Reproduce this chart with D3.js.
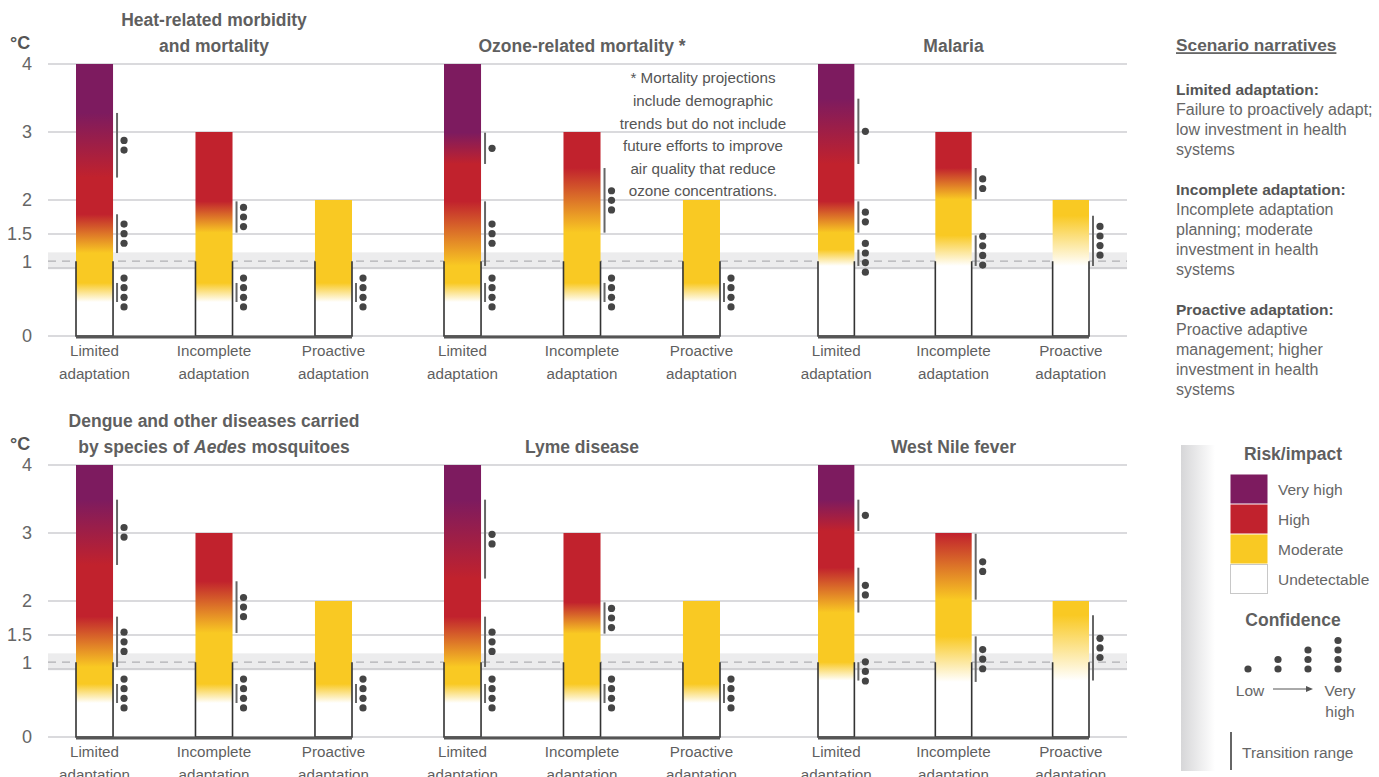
<!DOCTYPE html>
<html>
<head>
<meta charset="utf-8">
<script src="https://cdn.jsdelivr.net/npm/d3@7"></script>
<style>
  body { margin: 0; background: #fff; }
  svg text { font-family: "Liberation Sans", Arial, sans-serif; }
</style>
</head>
<body>
<svg id="chart" width="1379" height="777"></svg>
<script>
// ---- data ----
const scenarios = ["Limited adaptation", "Incomplete adaptation", "Proactive adaptation"]
const panelTitles = [
  ["Heat-related morbidity", "and mortality"],
  ["Ozone-related mortality *"],
  ["Malaria"],
  ["Dengue and other diseases carried", "by species of |Aedes| mosquitoes"],
  ["Lyme disease"],
  ["West Nile fever"]
]
const riskLevels = ["Undetectable", "Moderate", "High", "Very high"]
const riskColors = ["#ffffff", "#f9c923", "#c1222d", "#7d1b5f"]
const yTicks = [0, 1, 1.5, 2, 3, 4]
const presentWarming = 1.1
const presentBand = [0.98, 1.23]

// top of each ember (°C), per panel, per scenario
const emberTops = [[4, 3, 2], [4, 3, 2], [4, 3, 2], [4, 3, 2], [4, 3, 2], [4, 3, 2]]

// transitions: [scenario index, from risk level, start °C, end °C, confidence dots]
const heatTransitions = [
  [0, 0, 0.5, 0.78, 4], [0, 1, 1.22, 1.79, 3], [0, 2, 2.33, 3.28, 2],
  [1, 0, 0.5, 0.78, 4], [1, 1, 1.52, 1.98, 3],
  [2, 0, 0.5, 0.78, 4]
]
const ozoneTransitions = [
  [0, 0, 0.5, 0.78, 4], [0, 1, 1.03, 1.98, 3], [0, 2, 2.53, 2.99, 1],
  [1, 0, 0.5, 0.78, 4], [1, 1, 1.52, 2.47, 3],
  [2, 0, 0.5, 0.78, 4]
]
const malariaTransitions = [
  [0, 0, 1.03, 1.27, 4], [0, 1, 1.52, 1.98, 2], [0, 2, 2.53, 3.49, 1],
  [1, 0, 1.03, 1.48, 4], [1, 1, 2.01, 2.47, 2],
  [2, 0, 1.03, 1.77, 4]
]
const dengueTransitions = [
  [0, 0, 0.5, 0.78, 4], [0, 1, 1.03, 1.77, 3], [0, 2, 2.53, 3.49, 2],
  [1, 0, 0.5, 0.78, 4], [1, 1, 1.53, 2.29, 3],
  [2, 0, 0.5, 0.78, 4]
]
const lymeTransitions = [
  [0, 0, 0.5, 0.78, 4], [0, 1, 1.03, 1.77, 3], [0, 2, 2.33, 3.49, 2],
  [1, 0, 0.5, 0.78, 4], [1, 1, 1.52, 1.98, 3],
  [2, 0, 0.5, 0.78, 4]
]
const westNileTransitions = [
  [0, 0, 0.83, 1.1, 3], [0, 1, 1.83, 2.49, 2], [0, 2, 3.03, 3.49, 1],
  [1, 0, 0.81, 1.48, 3], [1, 1, 2.02, 2.99, 2],
  [2, 0, 0.83, 1.79, 3]
]
const allTransitions = [heatTransitions, ozoneTransitions, malariaTransitions,
  dengueTransitions, lymeTransitions, westNileTransitions]

const ozoneNote = ["* Mortality projections", "include demographic", "trends but do not include",
  "future efforts to improve", "air quality that reduce", "ozone concentrations."]

const narratives = [
  ["Limited adaptation:", "Failure to proactively adapt;", "low investment in health", "systems"],
  ["Incomplete adaptation:", "Incomplete adaptation", "planning; moderate", "investment in health", "systems"],
  ["Proactive adaptation:", "Proactive adaptive", "management; higher", "investment in health", "systems"]
]
const confidenceLevels = [1, 2, 3, 4]

// ---- layout ----
const svg = d3.select("#chart")
const gridX = [48, 1127]
const rowZero = [336, 737]
const panelRanges = [[76, 352], [444, 720], [818, 1089]]
const textGray = "#5f5f5f"

const defs = svg.append("defs")

rowZero.forEach(function(zero, row) {
  const y = d3.scaleLinear().domain([0, 4]).range([zero, zero - 272])
  const g = svg.append("g")

  // present-day band
  g.append("rect").attr("x", gridX[0]).attr("width", gridX[1] - gridX[0])
    .attr("y", y(presentBand[1])).attr("height", y(presentBand[0]) - y(presentBand[1]))
    .attr("fill", "#ececed")

  // grid
  g.selectAll(".grid").data(yTicks).enter().append("line")
    .attr("x1", gridX[0]).attr("x2", gridX[1])
    .attr("y1", d => y(d)).attr("y2", d => y(d))
    .attr("stroke", "#b5b5bb").attr("stroke-width", 1.2)
  g.append("line").attr("x1", gridX[0]).attr("x2", gridX[1])
    .attr("y1", y(presentWarming)).attr("y2", y(presentWarming))
    .attr("stroke", "#b0b0b4").attr("stroke-width", 1.3).attr("stroke-dasharray", "8,6")

  // tick labels
  g.selectAll(".tick").data(yTicks).enter().append("text")
    .attr("x", 32).attr("y", d => y(d === 1 ? presentWarming : d))
    .attr("dy", "0.36em").attr("text-anchor", "end")
    .attr("font-size", 18).attr("fill", "#666")
    .text(d => d)
  g.append("text").attr("x", 10).attr("y", y(4) - 21).attr("dy", "0.36em")
    .attr("font-size", 18).attr("font-weight", "bold").attr("fill", "#555").text("°C")

  for (let p = 0; p < 3; p++) {
    const pi = row * 3 + p
    const x = d3.scaleBand().domain(scenarios).range(panelRanges[p]).paddingInner(0.69).paddingOuter(0)
    const bw = x.bandwidth()
    const pg = g.append("g")

    // title
    const title = panelTitles[pi]
    const cx = (panelRanges[p][0] + panelRanges[p][1]) / 2
    title.forEach(function(line, li) {
      const ty = y(4) - 18 - (title.length - 1 - li) * 26
      const t = pg.append("text").attr("x", cx).attr("y", ty).attr("dy", "0.36em")
        .attr("text-anchor", "middle").attr("font-size", 17.5).attr("font-weight", "bold")
        .attr("fill", textGray)
      line.split("|").forEach(function(part, k) {
        t.append("tspan").attr("font-style", k % 2 ? "italic" : "normal").text(part)
      })
    })

    // embers
    scenarios.forEach(function(s, si) {
      const top = emberTops[pi][si]
      const tr = allTransitions[pi].filter(d => d[0] === si)
      const gid = "ember" + pi + "_" + si
      const grad = defs.append("linearGradient").attr("id", gid)
        .attr("gradientUnits", "userSpaceOnUse")
        .attr("x1", 0).attr("x2", 0).attr("y1", y(0)).attr("y2", y(top))
      grad.append("stop").attr("offset", 0).attr("stop-color", riskColors[0])
      tr.forEach(function(d) {
        grad.append("stop").attr("offset", d[2] / top).attr("stop-color", riskColors[d[1]])
        grad.append("stop").attr("offset", Math.min(d[3] / top, 1)).attr("stop-color", riskColors[d[1] + 1])
      })
      const bx = x(s)
      pg.append("rect").attr("x", bx).attr("width", bw)
        .attr("y", y(top)).attr("height", y(0) - y(top))
        .attr("fill", "url(#" + gid + ")")
      pg.append("path")
        .attr("d", d3.line()([[bx, y(presentWarming)], [bx, y(0)], [bx + bw, y(0)], [bx + bw, y(presentWarming)]]))
        .attr("fill", "none").attr("stroke", "#333").attr("stroke-width", 1.6)

      // transition ranges and confidence
      tr.forEach(function(d) {
        pg.append("line").attr("x1", bx + bw + 4).attr("x2", bx + bw + 4)
          .attr("y1", y(d[2])).attr("y2", y(d[3]))
          .attr("stroke", "#666").attr("stroke-width", 2)
        const mid = (y(d[2]) + y(d[3])) / 2
        pg.selectAll(null).data(d3.range(d[4])).enter().append("circle")
          .attr("cx", bx + bw + 11)
          .attr("cy", k => mid + (k - (d[4] - 1) / 2) * 9.6)
          .attr("r", 3.6).attr("fill", "#454545")
      })

      // category label
      const words = s.split(" ")
      const lab = pg.append("text").attr("x", bx + bw / 2).attr("y", y(0) + 15)
        .attr("text-anchor", "middle").attr("font-size", 15.2).attr("fill", textGray)
      words.forEach(function(w, k) {
        lab.append("tspan").attr("x", bx + bw / 2).attr("dy", k === 0 ? "0.36em" : "1.5em").text(w)
      })
    })

    // baseline
    pg.append("line").attr("x1", x(scenarios[0])).attr("x2", x(scenarios[2]) + bw)
      .attr("y1", y(0) + 1).attr("y2", y(0) + 1)
      .attr("stroke", "#555").attr("stroke-width", 3)

    if (pi === 1) {
      pg.selectAll(".note").data(ozoneNote).enter().append("text")
        .attr("x", 703).attr("y", (d, i) => 78 + i * 22.6).attr("dy", "0.36em")
        .attr("text-anchor", "middle").attr("font-size", 15.2).attr("fill", "#555")
        .text(d => d)
    }
  }
})

// ---- scenario narratives ----
const leg = svg.append("g").attr("transform", "translate(1176,0)")
leg.append("text").attr("x", 0).attr("y", 45).attr("dy", "0.36em")
  .attr("font-size", 17.3).attr("font-weight", "bold").attr("fill", textGray)
  .attr("text-decoration", "underline").text("Scenario narratives")
let ly = 89
narratives.forEach(function(block) {
  block.forEach(function(line, i) {
    leg.append("text").attr("x", 0).attr("y", ly).attr("dy", "0.36em")
      .attr("font-size", i === 0 ? 15.5 : 16).attr("font-weight", i === 0 ? "bold" : "normal")
      .attr("fill", i === 0 ? "#555" : "#666").text(line)
    ly += 20
  })
  ly += 20
})

// ---- risk legend ----
const shade = defs.append("linearGradient").attr("id", "shade")
shade.append("stop").attr("offset", 0).attr("stop-color", "#d6d6d8")
shade.append("stop").attr("offset", 1).attr("stop-color", "#ffffff")
svg.append("rect").attr("x", 1181).attr("y", 445).attr("width", 34).attr("height", 326)
  .attr("fill", "url(#shade)")

const rl = svg.append("g")
rl.append("text").attr("x", 1293).attr("y", 454).attr("dy", "0.36em").attr("text-anchor", "middle")
  .attr("font-size", 17.5).attr("font-weight", "bold").attr("fill", textGray).text("Risk/impact")
const legendLevels = riskLevels.slice().reverse()
const ly2 = d3.scaleBand().domain(legendLevels).range([474, 594])
rl.selectAll(".sw").data(legendLevels).enter().append("rect")
  .attr("x", 1230.5).attr("y", d => ly2(d) + 0.5).attr("width", 37).attr("height", ly2.bandwidth() - 1)
  .attr("fill", d => riskColors[riskLevels.indexOf(d)])
  .attr("stroke", d => d === "Undetectable" ? "#c8c8c8" : "none")
rl.selectAll(".swl").data(legendLevels).enter().append("text")
  .attr("x", 1278).attr("y", d => ly2(d) + ly2.bandwidth() / 2).attr("dy", "0.36em")
  .attr("font-size", 15.5).attr("fill", "#666").text(d => d)

rl.append("text").attr("x", 1293).attr("y", 620).attr("dy", "0.36em").attr("text-anchor", "middle")
  .attr("font-size", 17.5).attr("font-weight", "bold").attr("fill", textGray).text("Confidence")
const cxs = d3.scalePoint().domain(confidenceLevels).range([1248, 1338])
confidenceLevels.forEach(function(n) {
  rl.selectAll(null).data(d3.range(n)).enter().append("circle")
    .attr("cx", cxs(n)).attr("cy", k => 669 - k * 9.5).attr("r", 3.6).attr("fill", "#454545")
})
rl.append("text").attr("x", 1250).attr("y", 690).attr("dy", "0.36em").attr("text-anchor", "middle")
  .attr("font-size", 15.5).attr("fill", "#666").text("Low")
rl.append("line").attr("x1", 1273).attr("x2", 1309).attr("y1", 689).attr("y2", 689)
  .attr("stroke", "#555").attr("stroke-width", 1)
rl.append("path").attr("d", "M1313,689 L1306,686 L1306,692 Z").attr("fill", "#555")
rl.append("text").attr("x", 1340).attr("y", 690).attr("dy", "0.36em").attr("text-anchor", "middle")
  .attr("font-size", 15.5).attr("fill", "#666").text("Very")
rl.append("text").attr("x", 1340).attr("y", 711).attr("dy", "0.36em").attr("text-anchor", "middle")
  .attr("font-size", 15.5).attr("fill", "#666").text("high")
rl.append("line").attr("x1", 1231).attr("x2", 1231).attr("y1", 732).attr("y2", 770)
  .attr("stroke", "#666").attr("stroke-width", 2)
rl.append("text").attr("x", 1242).attr("y", 752).attr("dy", "0.36em")
  .attr("font-size", 15.5).attr("fill", "#666").text("Transition range")
</script>
</body>
</html>
